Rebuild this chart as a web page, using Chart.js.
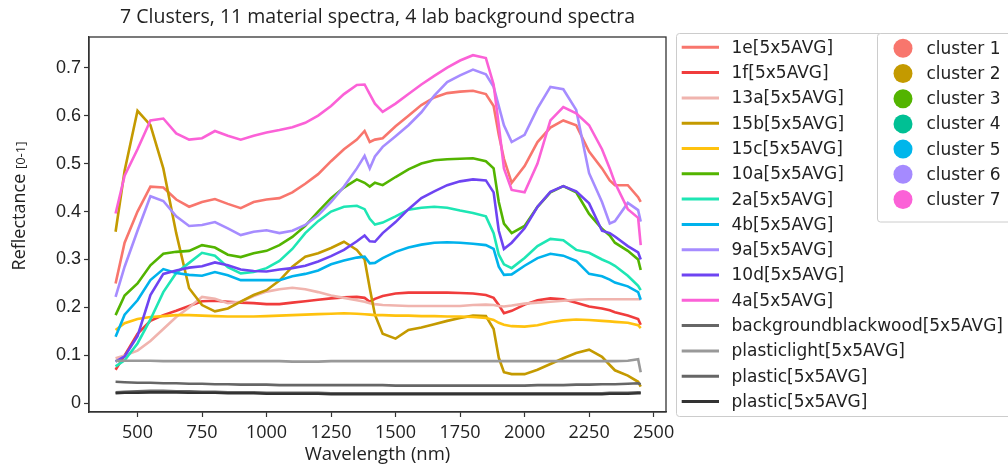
<!DOCTYPE html>
<html lang="en">
<head>
<meta charset="UTF-8">
<title>Spectra clusters</title>
<style>
  html, body { margin: 0; padding: 0; background: #fff; }
  #wrap { width: 1008px; height: 466px; }
</style>
</head>
<body>
<div id="wrap"><canvas id="spectra" width="1008" height="466"></canvas></div>

<script src="https://cdn.jsdelivr.net/npm/chart.js@4.4.1/dist/chart.umd.min.js"></script>
<script>
// wavelength grid (nm) shared by every spectrum
const wavelengths = [415, 450, 500, 550, 600, 650, 700, 750, 800, 850, 900, 950, 1000, 1050, 1100, 1150, 1200, 1250, 1300, 1350,
    1380, 1400, 1420, 1450, 1500, 1550, 1600, 1650, 1700, 1750, 1800, 1850, 1880, 1900, 1920, 1950, 2000, 2050, 2100, 2150,
    2200, 2250, 2300, 2330, 2350, 2400, 2440, 2450];

const r1e = [.25, .335, .40, .452, .45, .425, .41, .42, .426, .416, .407, .42, .425, .428, .44, .458, .478, .505, .53, .55,
    .568, .545, .55, .553, .578, .60, .622, .638, .647, .65, .652, .645, .62, .56, .51, .46, .495, .545, .575, .59,
    .58, .525, .49, .465, .455, .455, .43, .42];
const r1f = [.07, .10, .145, .172, .184, .193, .203, .213, .214, .212, .21, .209, .207, .207, .21, .213, .216, .219, .221, .222,
    .22, .212, .218, .224, .229, .231, .231, .231, .231, .23, .229, .226, .22, .205, .188, .193, .206, .215, .219, .217,
    .21, .202, .198, .194, .19, .183, .176, .164];
const r13a = [.094, .10, .11, .13, .155, .18, .20, .222, .218, .209, .212, .224, .233, .238, .241, .238, .232, .225, .22, .215,
    .212, .209, .207, .205, .204, .203, .203, .203, .203, .203, .205, .206, .205, .203, .202, .204, .208, .21, .212, .214,
    .216, .217, .217, .217, .217, .217, .217, .217];
const r15b = [.358, .485, .61, .58, .49, .355, .24, .205, .192, .198, .212, .226, .236, .256, .285, .306, .313, .324, .337, .32,
    .30, .24, .185, .145, .135, .153, .158, .165, .172, .178, .183, .182, .155, .095, .065, .061, .061, .07, .082, .094,
    .105, .112, .097, .08, .069, .058, .045, .035];
const r15c = [.153, .167, .176, .18, .182, .184, .184, .183, .182, .181, .181, .181, .182, .183, .184, .185, .186, .187, .188, .187,
    .186, .185, .184, .184, .183, .183, .182, .182, .181, .181, .18, .178, .174, .168, .164, .161, .16, .163, .169, .173,
    .175, .174, .172, .171, .17, .168, .163, .157];
const r10a = [.184, .225, .25, .288, .312, .316, .318, .33, .325, .31, .305, .313, .318, .33, .347, .37, .40, .428, .45, .467,
    .46, .452, .46, .455, .472, .488, .50, .507, .509, .51, .511, .505, .49, .42, .375, .355, .37, .41, .44, .453,
    .44, .395, .364, .35, .335, .318, .30, .278];
const r2a = [.077, .09, .125, .175, .232, .272, .293, .314, .308, .284, .271, .274, .282, .297, .322, .355, .38, .40, .41, .412,
    .405, .385, .373, .377, .39, .404, .408, .41, .408, .402, .397, .39, .355, .31, .29, .282, .303, .328, .343, .34,
    .32, .314, .30, .293, .287, .266, .245, .236];
const r4b = [.139, .185, .215, .257, .28, .272, .268, .266, .274, .267, .257, .257, .257, .257, .265, .27, .277, .29, .298, .304,
    .306, .292, .293, .303, .316, .325, .331, .335, .336, .335, .333, .33, .322, .285, .268, .269, .287, .303, .312, .308,
    .297, .27, .265, .258, .252, .244, .232, .216];
const r9a = [.222, .285, .36, .432, .422, .39, .37, .372, .378, .365, .351, .358, .361, .355, .36, .372, .392, .42, .452, .49,
    .516, .49, .515, .535, .557, .58, .607, .642, .67, .684, .696, .686, .66, .62, .58, .545, .56, .615, .66, .655,
    .612, .48, .42, .375, .38, .418, .403, .379];
const r10d = [.087, .098, .14, .226, .27, .277, .283, .286, .294, .288, .279, .276, .275, .279, .282, .287, .296, .307, .32, .338,
    .35, .338, .337, .355, .378, .405, .428, .442, .455, .463, .467, .465, .44, .36, .322, .335, .365, .41, .441, .453,
    .442, .417, .36, .355, .348, .328, .315, .30];
const r4a = [.396, .475, .53, .59, .594, .563, .55, .553, .568, .558, .55, .558, .565, .57, .576, .585, .60, .62, .645, .664,
    .665, .645, .625, .608, .625, .645, .665, .683, .70, .715, .726, .72, .665, .58, .49, .445, .44, .50, .59, .618,
    .605, .58, .53, .49, .46, .405, .387, .33];
const rBlackwood = [.045, .044, .043, .043, .042, .042, .041, .041, .040, .040, .039, .039, .039, .038, .038, .038, .038, .038, .038, .038,
    .038, .038, .038, .038, .037, .037, .037, .037, .037, .037, .037, .037, .037, .037, .037, .037, .037, .038, .038, .038,
    .039, .039, .040, .040, .040, .041, .042, .040];
const rPlasticLight = [.089, .089, .089, .089, .088, .088, .088, .088, .088, .088, .088, .088, .088, .088, .087, .087, .087, .088, .088, .088,
    .088, .088, .088, .088, .088, .088, .088, .088, .088, .088, .088, .088, .088, .088, .088, .088, .088, .088, .088, .088,
    .088, .088, .088, .088, .088, .089, .092, .065];
const rPlastic1 = [.023, .024, .025, .026, .026, .025, .025, .024, .024, .023, .023, .023, .022, .022, .022, .022, .022, .021, .021, .021,
    .021, .021, .021, .021, .021, .021, .021, .021, .021, .021, .021, .021, .021, .021, .021, .021, .021, .021, .021, .021,
    .021, .021, .021, .022, .022, .022, .023, .023];
const rPlastic2 = [.021, .022, .022, .023, .023, .023, .022, .022, .022, .021, .021, .021, .020, .020, .020, .020, .020, .019, .019, .019,
    .019, .019, .019, .019, .019, .019, .019, .019, .019, .019, .019, .019, .019, .019, .019, .019, .019, .019, .019, .019,
    .019, .019, .019, .020, .020, .020, .021, .021];

const seriesNames = ["1e[5x5AVG]", "1f[5x5AVG]", "13a[5x5AVG]", "15b[5x5AVG]", "15c[5x5AVG]", "10a[5x5AVG]", "2a[5x5AVG]",
    "4b[5x5AVG]", "9a[5x5AVG]", "10d[5x5AVG]", "4a[5x5AVG]", "backgroundblackwood[5x5AVG]", "plasticlight[5x5AVG]",
    "plastic[5x5AVG]", "plastic[5x5AVG]"];
const seriesValues = [r1e, r1f, r13a, r15b, r15c, r10a, r2a, r4b, r9a, r10d, r4a, rBlackwood, rPlasticLight, rPlastic1, rPlastic2];
const seriesColors = ["#f8766d", "#f03c3c", "#f0b4ae", "#c49a00", "#ffc20e", "#53b400", "#1ee6b4", "#00b2ec", "#a68cff",
    "#6e44f2", "#fb61d7", "#666666", "#999999", "#666666", "#333333"];

const clusterNames = ["cluster 1", "cluster 2", "cluster 3", "cluster 4", "cluster 5", "cluster 6", "cluster 7"];
const clusterColors = ["#f8766d", "#c49a00", "#53b400", "#00c094", "#00b6eb", "#a58aff", "#fb61d7"];

const xTicks = [500, 750, 1000, 1250, 1500, 1750, 2000, 2250, 2500];
const yTicks = [0, 0.1, 0.2, 0.3, 0.4, 0.5, 0.6, 0.7];

const titleText = "7 Clusters, 11 material spectra, 4 lab background spectra";

// draws frame, titles and both legends
const decor = {
    id: "decor",
    afterDraw(chart) {
        const ctx = chart.ctx;
        const a = chart.chartArea;
        ctx.save();

        ctx.strokeStyle = "#333";
        ctx.lineWidth = 1.3;
        ctx.strokeRect(a.left, a.top, a.right - a.left, a.bottom - a.top);

        ctx.fillStyle = "#222";
        ctx.textAlign = "center";
        ctx.textBaseline = "middle";
        ctx.font = '19.5px "Open Sans"';
        ctx.fillText(titleText, (a.left + a.right) / 2, 17);
        ctx.font = '18.5px "Open Sans"';
        ctx.fillText("Wavelength (nm)", (a.left + a.right) / 2, 455);

        // y title, bigger word + small range
        ctx.save();
        ctx.translate(25, 206);
        ctx.rotate(-Math.PI / 2);
        ctx.textAlign = "left";
        ctx.textBaseline = "alphabetic";
        ctx.font = '18px "Open Sans"';
        const w1 = ctx.measureText("Reflectance ").width;
        ctx.font = '13px "Open Sans"';
        const w2 = ctx.measureText("[0-1]").width;
        const x0 = -(w1 + w2) / 2;
        ctx.font = '18px "Open Sans"';
        ctx.fillText("Reflectance", x0, 0);
        ctx.font = '13px "Open Sans"';
        ctx.fillText("[0-1]", x0 + w1, 0);
        ctx.restore();

        // spectra legend
        ctx.beginPath();
        ctx.roundRect(676.5, 33.5, 345, 383, 3);
        ctx.fillStyle = "rgba(255,255,255,0.85)";
        ctx.fill();
        ctx.strokeStyle = "#cccccc";
        ctx.lineWidth = 1;
        ctx.stroke();
        ctx.font = '17px "DejaVu Sans"';
        ctx.textAlign = "left";
        ctx.textBaseline = "middle";
        seriesNames.forEach((name, i) => {
            const y = 47.3 + i * 25.3;
            ctx.strokeStyle = seriesColors[i];
            ctx.lineWidth = 3;
            ctx.beginPath();
            ctx.moveTo(681.7, y);
            ctx.lineTo(719, y);
            ctx.stroke();
            ctx.fillStyle = "#222";
            ctx.fillText(name, 731.5, y + 1);
        });

        // cluster legend
        ctx.beginPath();
        ctx.roundRect(877.5, 33.5, 140, 188.5, 3);
        ctx.fillStyle = "#ffffff";
        ctx.fill();
        ctx.strokeStyle = "#cccccc";
        ctx.lineWidth = 1;
        ctx.stroke();
        clusterNames.forEach((name, i) => {
            const y = 48.3 + i * 25.2;
            ctx.fillStyle = clusterColors[i];
            ctx.beginPath();
            ctx.arc(903, y, 9.5, 0, Math.PI * 2);
            ctx.fill();
            ctx.fillStyle = "#222";
            ctx.fillText(name, 926.5, y + 1);
        });

        ctx.restore();
    }
};

const datasets = seriesValues.map((vals, i) => ({
    label: seriesNames[i],
    data: wavelengths.map((w, j) => ({ x: w, y: vals[j] })),
    borderColor: seriesColors[i],
    borderWidth: 2.6,
    pointRadius: 0,
    fill: false,
    tension: 0,
    order: seriesValues.length - i,
}));

const chart = new Chart(document.getElementById("spectra").getContext("2d"), {
    type: "line",
    data: { datasets: datasets },
    options: {
        responsive: false,
        animation: false,
        devicePixelRatio: 1,
        layout: { padding: { left: 0, right: 342, top: 37, bottom: 0 } },
        plugins: { legend: { display: false }, tooltip: { enabled: false } },
        scales: {
            x: {
                type: "linear",
                min: 312,
                max: 2548,
                afterFit: s => { s.height = 54; },
                afterBuildTicks: s => { s.ticks = xTicks.map(v => ({ value: v })); },
                ticks: {
                    color: "#222", padding: 5, font: { family: "Open Sans", size: 18 },
                    callback: v => String(v),
                },
                grid: { drawOnChartArea: false, tickLength: 5, tickColor: "#333", tickWidth: 1.2 },
                border: { color: "#333", width: 1.3 },
            },
            y: {
                min: -0.018,
                max: 0.764,
                afterFit: s => { s.width = 89; },
                afterBuildTicks: s => { s.ticks = yTicks.map(v => ({ value: v })); },
                ticks: {
                    color: "#222", padding: 3, font: { family: "Liberation Sans", size: 18 },
                    callback: v => (v === 0 ? "0" : v.toFixed(1)),
                },
                grid: { drawOnChartArea: false, tickLength: 5, tickColor: "#333", tickWidth: 1.2 },
                border: { color: "#333", width: 1.3 },
            },
        },
    },
    plugins: [decor],
});
</script>
</body>
</html>
